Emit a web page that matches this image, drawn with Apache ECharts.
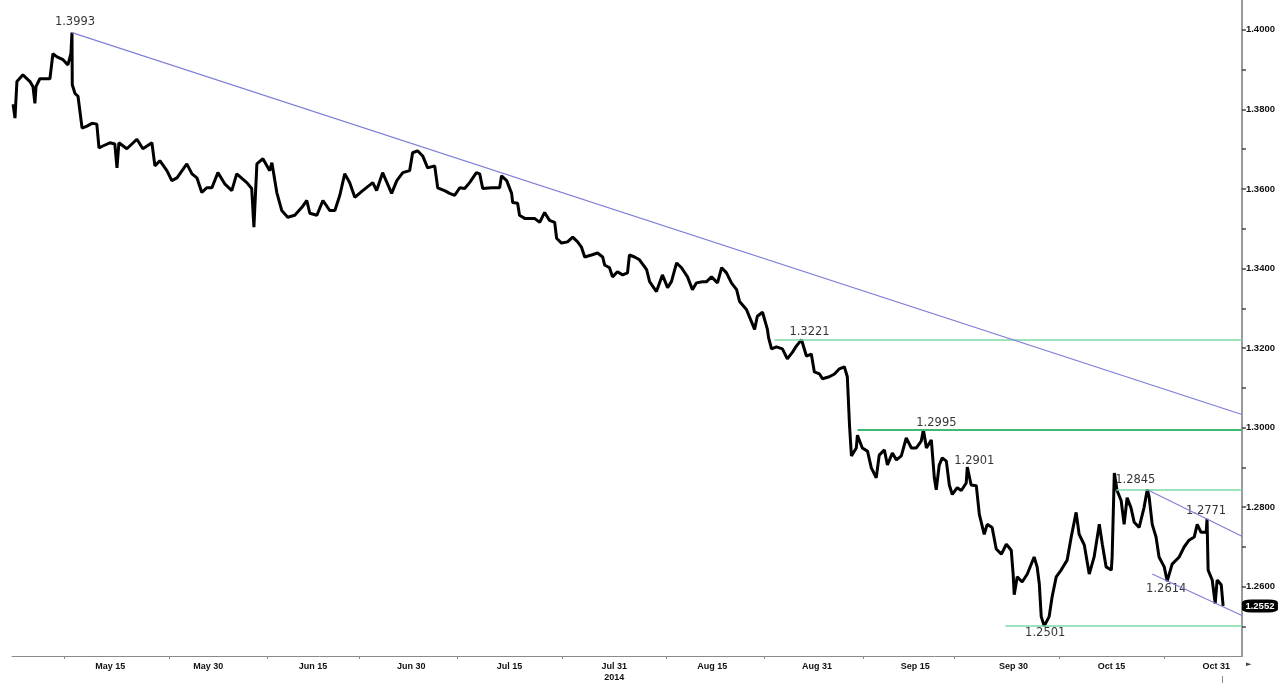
<!DOCTYPE html>
<html>
<head>
<meta charset="utf-8">
<script src="https://cdn.jsdelivr.net/npm/echarts@6/dist/echarts.min.js"></script>
<style>
html, body { margin: 0; padding: 0; background: #fff; }
#main { width: 1278px; height: 683px; }
</style>
</head>
<body>
<div id="main"></div>
<script>
// EUR/USD 2014, times as 'MM-DD HH'
var times = [
    '04-30 04','04-30 11','04-30 18','05-01 16','05-02 18','05-03 05','05-03 12','05-03 16','05-04 06','05-05 19',
    '05-06 06','05-06 21','05-07 19','05-08 13','05-09 00','05-09 04','05-09 05','05-09 15','05-10 02','05-10 17',
    '05-11 11','05-12 05','05-12 23','05-13 07','05-13 21','05-14 23','05-15 17','05-16 01','05-16 08','05-17 13',
    '05-19 02','05-20 00','05-21 09','05-21 20','05-22 14','05-23 16','05-24 10','05-25 05','05-26 17','05-27 12',
    '05-28 06','05-29 00','05-29 18','05-30 13','05-31 11','06-01 12','06-02 14','06-03 08','06-04 21','06-05 15',
    '06-05 23','06-06 10','06-07 08','06-08 09','06-08 17','06-09 11','06-10 05','06-11 03','06-12 05','06-13 07',
    '06-14 01','06-14 12','06-15 14','06-16 12','06-17 13','06-18 08','06-19 02','06-19 20','06-20 14','06-21 09',
    '06-22 14','06-24 03','06-24 17','06-25 15','06-27 00','06-27 19','06-28 17','06-29 18','06-30 05','06-30 23',
    '07-01 18','07-02 12','07-03 14','07-04 01','07-05 02','07-05 21','07-06 15','07-07 10','07-08 04','07-08 22',
    '07-09 23','07-10 11','07-10 22','07-12 07','07-13 12','07-13 19','07-14 14','07-15 08','07-15 12','07-16 06',
    '07-16 13','07-17 08','07-18 20','07-19 15','07-20 09','07-21 03','07-21 22','07-22 05','07-22 23','07-23 21',
    '07-24 16','07-25 10','07-26 00','07-26 12','07-27 13','07-28 11','07-29 06','07-29 13','07-30 07','07-30 18',
    '07-31 12','08-01 07','08-02 01','08-02 08','08-03 03','08-03 21','08-04 23','08-05 10','08-06 11','08-07 09',
    '08-08 04','08-08 18','08-09 13','08-10 07','08-11 05','08-11 23','08-12 14','08-13 12','08-14 03','08-14 21',
    '08-15 19','08-16 10','08-17 04','08-17 22','08-18 17','08-19 04','08-20 05','08-20 23','08-21 11','08-21 21',
    '08-22 16','08-23 10','08-23 14','08-24 01','08-24 19','08-25 17','08-26 11','08-27 06','08-27 20','08-28 15',
    '08-29 09','08-30 03','08-30 14','08-31 09','08-31 20','09-01 21','09-02 16','09-03 10','09-04 04','09-04 15',
    '09-04 23','09-05 06','09-06 00','09-06 04','09-06 22','09-07 17','09-08 07','09-09 01','09-09 12','09-10 07',
    '09-10 18','09-11 12','09-12 03','09-12 21','09-13 15','09-14 10','09-15 04','09-15 22','09-16 06','09-16 17',
    '09-17 11','09-17 18','09-17 22','09-18 05','09-18 16','09-19 03','09-19 18','09-20 05','09-20 16','09-21 10',
    '09-22 01','09-22 19','09-22 23','09-23 13','09-24 08','09-24 19','09-25 13','09-26 00','09-26 18','09-27 09',
    '09-28 04','09-28 22','09-29 16','09-29 23','09-30 03','09-30 14','10-01 08','10-02 03','10-03 04','10-03 15',
    '10-03 23','10-04 06','10-04 17','10-05 11','10-05 22','10-06 13','10-07 07','10-08 05','10-08 20','10-09 14',
    '10-10 01','10-10 20','10-11 14','10-12 08','10-13 03','10-13 14','10-14 04','10-14 23','10-15 02','10-15 10',
    '10-15 20','10-16 11','10-16 22','10-17 09','10-17 23','10-18 11','10-19 05','10-19 23','10-20 11','10-20 18',
    '10-21 05','10-21 19','10-22 06','10-23 01','10-23 12','10-24 06','10-25 08','10-26 02','10-26 20','10-27 15',
    '10-28 02','10-28 16','10-29 11','10-29 14','10-29 18','10-30 09','10-30 20','10-31 03','10-31 18','11-01 01'
];
var prices = [
    1.3813,1.3778,1.3870,1.3887,1.3870,1.3857,1.3815,1.3857,1.3877,1.3877,
    1.3940,1.3932,1.3925,1.3912,1.3940,1.3993,1.3862,1.3840,1.3833,1.3753,
    1.3758,1.3765,1.3763,1.3703,1.3708,1.3716,1.3713,1.3653,1.3716,1.3701,
    1.3725,1.3701,1.3716,1.3658,1.3671,1.3646,1.3621,1.3628,1.3663,1.3638,
    1.3628,1.3591,1.3603,1.3603,1.3641,1.3613,1.3596,1.3638,1.3616,1.3601,
    1.3504,1.3663,1.3676,1.3646,1.3666,1.3591,1.3546,1.3529,1.3534,1.3554,
    1.3571,1.3539,1.3534,1.3571,1.3546,1.3546,1.3584,1.3638,1.3616,1.3579,
    1.3596,1.3616,1.3596,1.3641,1.3589,1.3621,1.3641,1.3646,1.3691,1.3696,
    1.3683,1.3653,1.3658,1.3603,1.3596,1.3589,1.3584,1.3603,1.3601,1.3616,
    1.3641,1.3638,1.3601,1.3603,1.3603,1.3633,1.3621,1.3589,1.3566,1.3564,
    1.3534,1.3526,1.3526,1.3516,1.3541,1.3521,1.3516,1.3476,1.3464,1.3467,
    1.3479,1.3467,1.3454,1.3429,1.3434,1.3439,1.3429,1.3409,1.3402,1.3379,
    1.3392,1.3384,1.3389,1.3434,1.3429,1.3422,1.3397,1.3367,1.3342,1.3384,
    1.3352,1.3367,1.3414,1.3402,1.3379,1.3347,1.3364,1.3367,1.3367,1.3379,
    1.3364,1.3402,1.3389,1.3364,1.3347,1.3317,1.3297,1.3267,1.3247,1.3280,
    1.3290,1.3247,1.3227,1.3198,1.3203,1.3198,1.3173,1.3190,1.3205,1.3221,
    1.3180,1.3185,1.3140,1.3135,1.3123,1.3128,1.3135,1.3148,1.3153,1.3128,
    1.3006,1.2929,1.2949,1.2981,1.2949,1.2941,1.2899,1.2874,1.2931,1.2944,
    1.2906,1.2936,1.2919,1.2929,1.2974,1.2949,1.2949,1.2966,1.2995,1.2949,
    1.2969,1.2966,1.2874,1.2844,1.2906,1.2924,1.2916,1.2856,1.2832,1.2849,
    1.2842,1.2861,1.2901,1.2856,1.2854,1.2782,1.2732,1.2757,1.2749,1.2695,
    1.2682,1.2707,1.2692,1.2632,1.2580,1.2625,1.2612,1.2632,1.2675,1.2650,
    1.2607,1.2525,1.2501,1.2525,1.2575,1.2625,1.2642,1.2667,1.2725,1.2787,
    1.2732,1.2705,1.2632,1.2675,1.2757,1.2707,1.2650,1.2642,1.2675,1.2886,
    1.2842,1.2817,1.2757,1.2824,1.2799,1.2762,1.2749,1.2799,1.2845,1.2824,
    1.2757,1.2725,1.2675,1.2650,1.2614,1.2657,1.2675,1.2700,1.2717,1.2725,
    1.2757,1.2737,1.2737,1.2771,1.2642,1.2617,1.2558,1.2617,1.2605,1.2552
];

// annotated highs / lows
var noteTimes = ['05-09 04','08-28 15','09-16 06','09-22 23','10-20 11','10-29 14','10-23 12','10-04 17'];
var noteValues = [1.3993, 1.3221, 1.2995, 1.2901, 1.2845, 1.2771, 1.2614, 1.2501];
var noteOffsets = [[3,-11],[8,-8],[13,-7],[7,-6],[-12,-9],[-1,-8],[-1,8],[1,7]];

// horizontal support / resistance levels
var levelValues = [1.3221, 1.2995, 1.2845, 1.2501];
var levelStarts = ['08-24 12','09-06 04','10-15 17','09-28 19'];

// trend lines [start time, start value, end value]
var trendLines = [
    ['05-09 04', 1.3993, 1.3033],
    ['10-20 17', 1.2842, 1.2727],
    ['10-21 05', 1.2632, 1.2528]
];

var yLabels = [1.26, 1.28, 1.30, 1.32, 1.34, 1.36, 1.38, 1.40];
var yTicks = [1.25, 1.26, 1.27, 1.28, 1.29, 1.30, 1.31, 1.32, 1.33, 1.34, 1.35, 1.36, 1.37, 1.38, 1.39, 1.40];
var xLabelDates = ['05-15','05-30','06-15','06-30','07-15','07-31','08-15','08-31','09-15','09-30','10-15','10-31'];
var xTickDates = ['05-08','05-24','06-08','06-22','07-07','07-23','08-08','08-23','09-07','09-21','10-07','10-23'];
var lastPrice = 1.2552;

function toTime(s) {
    var md = s.split(' ');
    var p = md[0].split('-');
    var h = md.length > 1 ? parseInt(md[1], 10) : 0;
    return Date.UTC(2014, parseInt(p[0], 10) - 1, parseInt(p[1], 10), h);
}

var xMin = toTime('04-30 00');
var xMax = toTime('11-03 22');
var monthNames = ['Jan','Feb','Mar','Apr','May','Jun','Jul','Aug','Sep','Oct','Nov','Dec'];

var lineData = [];
for (var i = 0; i < times.length; i++) {
    lineData.push([toTime(times[i]), prices[i]]);
}

var noteData = [];
for (var i = 0; i < noteTimes.length; i++) {
    noteData.push({
        value: [toTime(noteTimes[i]), noteValues[i]],
        label: { offset: noteOffsets[i] }
    });
}

var markLines = [];
var greenColors = ['#7dd8a4', '#3dba72', '#7dd8a4', '#7dd8a4'];
var greenWidths = [1.5, 2, 1.5, 1.5];
for (var i = 0; i < levelValues.length; i++) {
    markLines.push([
        { coord: [toTime(levelStarts[i]), levelValues[i]], lineStyle: { color: greenColors[i], width: greenWidths[i], type: 'solid' } },
        { coord: [xMax, levelValues[i]] }
    ]);
}
for (var i = 0; i < trendLines.length; i++) {
    markLines.push([
        { coord: [toTime(trendLines[i][0]), trendLines[i][1]], lineStyle: { color: '#7f80d6', width: 1.2, type: 'solid' } },
        { coord: [xMax, trendLines[i][2]] }
    ]);
}

var myChart = echarts.init(document.getElementById('main'));
var option = {
    animation: false,
    backgroundColor: '#ffffff',
    grid: {
        left: 12,
        right: 35,
        top: 0,
        bottom: 23
    },
    xAxis: {
        type: 'value',
        min: xMin,
        max: xMax,
        splitLine: { show: false },
        axisLine: { show: true, lineStyle: { color: '#8a8a8a', width: 1 } },
        axisTick: {
            show: true,
            length: 3,
            customValues: xTickDates.map(toTime),
            lineStyle: { color: '#8a8a8a' }
        },
        axisLabel: {
            customValues: xLabelDates.map(toTime),
            margin: 5,
            color: '#111',
            fontFamily: 'Liberation Sans',
            fontWeight: 'bold',
            fontSize: 9,
            lineHeight: 11,
            formatter: function (v) {
                var d = new Date(v);
                var s = monthNames[d.getUTCMonth()] + ' ' + d.getUTCDate();
                if (d.getUTCMonth() == 6 && d.getUTCDate() == 31) {
                    s += '\n2014';
                }
                return s;
            }
        }
    },
    yAxis: {
        type: 'value',
        position: 'right',
        min: 1.2426,
        max: 1.4075,
        splitLine: { show: false },
        axisLine: { show: true, lineStyle: { color: '#9a9a9a', width: 2 } },
        axisTick: {
            show: true,
            length: 4,
            customValues: yTicks,
            lineStyle: { color: '#444', width: 1.5 }
        },
        axisLabel: {
            customValues: yLabels,
            margin: 4,
            color: '#111',
            fontFamily: 'Liberation Sans',
            fontWeight: 'bold',
            fontSize: 9.5,
            formatter: function (v) { return v.toFixed(4); }
        }
    },
    series: [
        {
            name: 'EURUSD',
            type: 'line',
            data: lineData,
            showSymbol: false,
            symbol: 'none',
            lineStyle: { color: '#000', width: 3, join: 'bevel' },
            markLine: {
                silent: true,
                symbol: ['none', 'none'],
                label: { show: false },
                data: markLines
            },
            markPoint: {
                silent: true,
                symbol: 'roundRect',
                symbolSize: [36, 13],
                symbolOffset: [18, 0],
                itemStyle: { color: '#000' },
                label: {
                    show: true,
                    position: 'inside',
                    color: '#fff',
                    fontFamily: 'Liberation Sans',
                    fontWeight: 'bold',
                    fontSize: 9.5,
                    formatter: function () { return lastPrice.toFixed(4); }
                },
                data: [{ coord: [xMax, lastPrice] }]
            }
        },
        {
            name: 'notes',
            type: 'scatter',
            data: noteData,
            symbolSize: 0,
            silent: true,
            label: {
                show: true,
                position: 'inside',
                color: '#000',
                fontFamily: 'DejaVu Sans',
                fontSize: 11.5,
                formatter: function (p) { return p.value[1].toFixed(4); }
            }
        }
    ],
    graphic: [
        { type: 'text', left: 1246, top: 661, style: { text: '\u25BA', fill: '#444', font: '7px DejaVu Sans' } },
        { type: 'line', shape: { x1: 1222.5, y1: 676, x2: 1222.5, y2: 683 }, style: { stroke: '#888', lineWidth: 1 } }
    ]
};
myChart.setOption(option);
</script>
</body>
</html>
